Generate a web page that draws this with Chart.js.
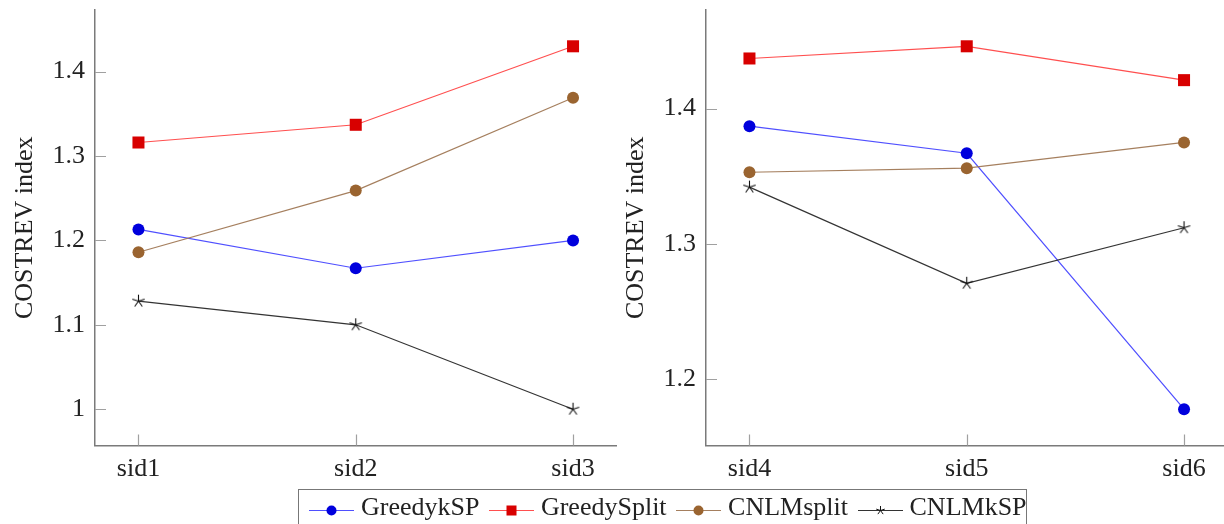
<!DOCTYPE html>
<html><head><meta charset="utf-8">
<script src="https://cdn.jsdelivr.net/npm/chart.js@4.4.1/dist/chart.umd.min.js"></script>
<style>
html,body{margin:0;padding:0;background:#fff;width:1224px;height:524px;overflow:hidden;position:relative;font-family:"Liberation Serif","Times New Roman",serif;}
#c1{position:absolute;left:0;top:0;}
#c2{position:absolute;left:611px;top:0;}
#legend{position:absolute;left:298px;top:489px;width:729px;height:50px;border:1.5px solid #777;box-sizing:border-box;padding:2px 0 0 10px;display:flex;align-items:flex-start;}
.item{display:flex;align-items:flex-start;margin-right:9.5px;}
.item svg{display:block;width:45px;height:30px;margin-right:7px;}
.item span{font-size:26px;line-height:30px;color:#222;white-space:nowrap;}
</style></head>
<body>
<canvas id="c1" width="625" height="524"></canvas>
<canvas id="c2" width="625" height="524"></canvas>
<div id="legend"></div>
<script>
// ---- data ----
const leftCategories = ['sid1', 'sid2', 'sid3'];
const rightCategories = ['sid4', 'sid5', 'sid6'];
const seriesNames = ['GreedykSP', 'GreedySplit', 'CNLMsplit', 'CNLMkSP'];
const greedyKSPLeft = [1.213, 1.167, 1.200];
const greedySplitLeft = [1.316, 1.337, 1.430];
const cnlmSplitLeft = [1.186, 1.259, 1.369];
const cnlmKSPLeft = [1.128, 1.100, 1.000];
const greedyKSPRight = [1.387, 1.367, 1.178];
const greedySplitRight = [1.437, 1.446, 1.421];
const cnlmSplitRight = [1.353, 1.356, 1.375];
const cnlmKSPRight = [1.342, 1.271, 1.312];
const leftYTicks = [1, 1.1, 1.2, 1.3, 1.4];
const rightYTicks = [1.2, 1.3, 1.4];
const yTitle = 'COSTREV index';

// ---- styles ----
const FONT = {family: '"Liberation Serif","Times New Roman",serif', size: 26};
const TEXT = '#222';
const AXIS = '#7a7a7a';

function starImage(r, color) {
  const c = document.createElement('canvas');
  const s = Math.ceil(r * 2 + 4);
  c.width = s; c.height = s;
  const g = c.getContext('2d');
  g.strokeStyle = color; g.lineWidth = 1.1;
  g.beginPath();
  for (let k = 0; k < 5; k++) {
    const a = -Math.PI / 2 + k * 2 * Math.PI / 5;
    g.moveTo(s / 2, s / 2);
    g.lineTo(s / 2 + r * Math.cos(a), s / 2 + r * Math.sin(a));
  }
  g.stroke();
  return c;
}
const starPt = starImage(6.5, '#111');

const seriesStyles = [
  {borderColor: 'rgba(70,70,255,0.95)', pointBackgroundColor: '#0000dd', pointBorderColor: '#0000dd', pointStyle: 'circle', pointRadius: 6},
  {borderColor: 'rgba(255,70,70,0.95)', pointBackgroundColor: '#d80000', pointBorderColor: '#d80000', pointStyle: 'rect', pointRadius: 8.5},
  {borderColor: 'rgba(160,120,85,0.95)', pointBackgroundColor: '#9a6430', pointBorderColor: '#9a6430', pointStyle: 'circle', pointRadius: 6},
  {borderColor: 'rgba(40,40,40,0.95)', pointBackgroundColor: '#111', pointBorderColor: '#111', pointStyle: starPt, pointRadius: 6}
];

const innerTicks = {
  id: 'innerTicks',
  beforeDatasetsDraw(chart) {
    const {ctx, chartArea, scales} = chart;
    ctx.save();
    ctx.strokeStyle = '#a0a0a0';
    ctx.lineWidth = 1.2;
    ctx.beginPath();
    scales.y.ticks.forEach(t => {
      const y = Math.round(scales.y.getPixelForValue(t.value)) + 0.5;
      ctx.moveTo(chartArea.left, y); ctx.lineTo(chartArea.left + 11, y);
    });
    scales.x.ticks.forEach(t => {
      const x = Math.round(scales.x.getPixelForValue(t.value)) + 0.5;
      ctx.moveTo(x, chartArea.bottom); ctx.lineTo(x, chartArea.bottom - 11);
    });
    ctx.stroke();
    ctx.restore();
  }
};

function makeChart(id, cats, seriesData, yTicks, padRight) {
  const all = seriesData.flat();
  const lo = Math.min(...all), hi = Math.max(...all);
  const pad = 0.1 * (hi - lo);
  const xPad = 0.1 * (cats.length - 1);
  return new Chart(document.getElementById(id), {
    type: 'line',
    data: {
      datasets: seriesData.map((vals, i) => Object.assign({
        label: seriesNames[i],
        data: vals.map((v, j) => ({x: j, y: v})),
        borderWidth: 1.2,
        pointBorderWidth: 0,
        pointHoverRadius: 6,
        tension: 0,
        fill: false,
        clip: false,
        order: seriesData.length - i
      }, seriesStyles[i]))
    },
    options: {
      responsive: false,
      animation: false,
      devicePixelRatio: 1,
      layout: {padding: {top: 10, right: padRight, left: 0, bottom: 0}},
      plugins: {legend: {display: false}, tooltip: {enabled: false}},
      events: [],
      scales: {
        x: {
          type: 'linear',
          min: -xPad, max: (cats.length - 1) + xPad,
          afterBuildTicks: s => { s.ticks = cats.map((_, j) => ({value: j})); },
          afterFit: s => { s.height = 78.5; s.paddingLeft = 0; s.paddingRight = 0; },
          grid: {display: false, drawTicks: false},
          border: {display: true, color: AXIS, width: 1.5},
          ticks: {font: FONT, color: TEXT, padding: 8, maxRotation: 0, autoSkip: false,
                  callback: v => cats[v] ?? ''}
        },
        y: {
          type: 'linear',
          min: lo - pad, max: hi + pad,
          afterBuildTicks: s => { s.ticks = yTicks.map(v => ({value: v})); },
          afterFit: s => { s.width = 95; s.paddingTop = 0; s.paddingBottom = 0; },
          grid: {display: false, drawTicks: false},
          border: {display: true, color: AXIS, width: 1.5},
          ticks: {font: FONT, color: TEXT, padding: 10, callback: v => String(+v.toFixed(2))},
          title: {display: true, text: yTitle, font: FONT, color: TEXT, padding: {top: 10, bottom: 0}}
        }
      }
    },
    plugins: [innerTicks]
  });
}

makeChart('c1', leftCategories, [greedyKSPLeft, greedySplitLeft, cnlmSplitLeft, cnlmKSPLeft], leftYTicks, 6.4);
makeChart('c2', rightCategories, [greedyKSPRight, greedySplitRight, cnlmSplitRight, cnlmKSPRight], rightYTicks, 5);

// ---- legend ----
const legendMarkers = [
  '<circle cx="22.5" cy="18.5" r="5" fill="#0000dd"/>',
  '<rect x="17.5" y="13.5" width="10" height="10" fill="#d80000"/>',
  '<circle cx="22.5" cy="18.5" r="5" fill="#9a6430"/>',
  (() => { let p = ''; for (let k = 0; k < 5; k++) { const a = -Math.PI/2 + k*2*Math.PI/5; p += `M22.5 18.5 L${(22.5+4.5*Math.cos(a)).toFixed(2)} ${(18.5+4.5*Math.sin(a)).toFixed(2)} `; } return `<path d="${p}" stroke="#111" stroke-width="1"/>`; })()
];
const legendLine = ['rgba(70,70,255,0.95)', 'rgba(255,70,70,0.95)', 'rgba(160,120,85,0.95)', 'rgba(40,40,40,0.95)'];
const leg = document.getElementById('legend');
seriesNames.forEach((n, i) => {
  const d = document.createElement('div');
  d.className = 'item';
  d.innerHTML = `<svg viewBox="0 0 45 30"><line x1="0" y1="18.5" x2="45" y2="18.5" stroke="${legendLine[i]}" stroke-width="1.2"/>${legendMarkers[i]}</svg><span>${n}</span>`;
  leg.appendChild(d);
});
</script>
</body></html>
